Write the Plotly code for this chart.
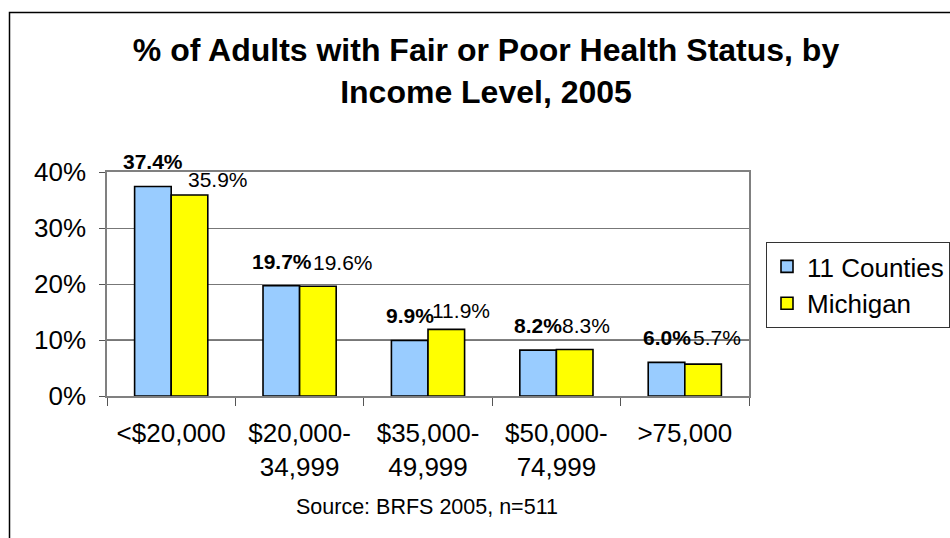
import plotly.graph_objects as go

categories = ["<$20,000", "$20,000-<br>34,999", "$35,000-<br>49,999", "$50,000-<br>74,999", ">75,000"]
series_names = ["11 Counties", "Michigan"]
counties = [37.4, 19.7, 9.9, 8.2, 6.0]
michigan = [35.9, 19.6, 11.9, 8.3, 5.7]
y_ticks = [0, 10, 20, 30, 40]
y_tick_labels = ["0%", "10%", "20%", "30%", "40%"]

FONT = "Liberation Sans, Arial, sans-serif"
BLUE = "#99CCFF"
YELLOW = "#FFFF00"

fig = go.Figure()
fig.add_trace(go.Bar(x=categories, y=counties, name=series_names[0],
                     marker=dict(color=BLUE, line=dict(color="black", width=1.6))))
fig.add_trace(go.Bar(x=categories, y=michigan, name=series_names[1],
                     marker=dict(color=YELLOW, line=dict(color="black", width=1.6))))

# data labels (label placement offsets in pixels)
blue_dx = [-18, -18, -18, -18, -18]
blue_dy = [25, 24, 25, 25, 25]
yel_dx = [47, 43, 33, 30, 32]
yel_dy = [15, 24, 19, 24, 27]
annotations = []
for i, c in enumerate(categories):
    annotations.append(dict(x=c, y=counties[i], xref="x", yref="y",
                            text=f"<b>{counties[i]:.1f}%</b>", showarrow=False,
                            xshift=blue_dx[i], yshift=blue_dy[i],
                            xanchor="center", yanchor="middle",
                            font=dict(family=FONT, size=21, color="black")))
    annotations.append(dict(x=c, y=michigan[i], xref="x", yref="y",
                            text=f"{michigan[i]:.1f}%", showarrow=False,
                            xshift=yel_dx[i], yshift=yel_dy[i],
                            xanchor="center", yanchor="middle",
                            font=dict(family=FONT, size=21, color="black")))

L, R, T, B = 107, 201, 172, 142
pw, ph = 950 - L - R, 538 - T - B

annotations.append(dict(text="Source: BRFS 2005, n=511", xref="paper", yref="paper",
                        x=(427 - L) / pw, y=(396 - 507) / ph, showarrow=False,
                        xanchor="center", yanchor="middle",
                        font=dict(family=FONT, size=21.5, color="black")))

fig.update_layout(
    width=950, height=538,
    margin=dict(l=L, r=R, t=T, b=B, pad=0, autoexpand=False),
    paper_bgcolor="white", plot_bgcolor="white",
    barmode="group", bargap=0.43, bargroupgap=0,
    font=dict(family=FONT, size=26, color="black"),
    title=dict(text="<b>% of Adults with Fair or Poor Health Status, by<br>Income Level, 2005</b>",
               x=486 / 950, xref="container", xanchor="center",
               y=1 - 61 / 538, yref="container", yanchor="top",
               font=dict(family=FONT, size=32, color="black")),
    legend=dict(x=(766 - L) / pw, y=(396 - 242) / ph, xanchor="left", yanchor="top",
                bordercolor="#333333", borderwidth=1, bgcolor="white",
                font=dict(family=FONT, size=26, color="black"),
                itemwidth=30, tracegroupgap=0, entrywidth=210, entrywidthmode="pixels"),
    annotations=annotations,
    shapes=[
        dict(type="rect", xref="paper", yref="paper",
             x0=(9.5 - L) / pw, x1=(980 - L) / pw, y0=(396 - 560) / ph, y1=(396 - 12.5) / ph,
             line=dict(color="black", width=1.5), fillcolor="rgba(0,0,0,0)", layer="below"),
        dict(type="line", xref="paper", yref="y", x0=0, x1=1, y0=10, y1=10,
             line=dict(color="black", width=1), layer="below"),
    ],
)
fig.update_xaxes(showline=True, linecolor="#808080", linewidth=1.5, mirror=True,
                 ticks="outside", tickson="boundaries", ticklen=8, tickcolor="#555555",
                 tickfont=dict(family=FONT, size=26, color="black"),
                 ticklabelstandoff=13, showgrid=False, automargin=False)
fig.update_yaxes(range=[0, 40], tickvals=y_ticks, ticktext=y_tick_labels,
                 showline=True, linecolor="#808080", linewidth=1.5, mirror=True,
                 ticks="outside", ticklen=6, tickcolor="#555555",
                 tickfont=dict(family=FONT, size=26, color="black"),
                 ticklabelstandoff=8, automargin=False,
                 showgrid=True, gridcolor="#777777", gridwidth=1, zeroline=False)

fig.write_html("out.html", config={"displayModeBar": False},
               post_script="document.body.style.margin='0px';")
